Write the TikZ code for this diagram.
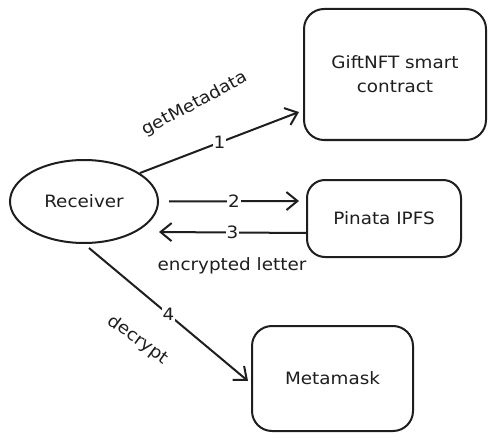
\documentclass[tikz,border=0pt]{standalone}
\usepackage{fontspec}
\setmainfont[FakeStretch=1.08]{DejaVu Sans}
\usetikzlibrary{arrows.meta,shapes.geometric}
\definecolor{ink}{HTML}{1E1E1E}
\tikzset{
  box/.style={draw=ink, line width=2pt, rounded corners=20pt, align=center, text=ink, font=\fontsize{17}{24}\selectfont},
  ell/.style={draw=ink, line width=2pt, ellipse, inner sep=0pt, text=ink, font=\fontsize{17}{24}\selectfont},
  conn/.style={draw=ink, line width=2pt, -{Straight Barb[length=11pt,width=18pt,line width=2pt]}},
  num/.style={fill=white, inner sep=1pt, text=ink, font=\fontsize{17}{20}\selectfont},
  lbl/.style={text=ink, inner sep=0pt, font=\fontsize{17}{20}\selectfont},
}
\begin{document}
\begin{tikzpicture}[x=1pt,y=-1pt]
\useasboundingbox[fill=white] (0,0) rectangle (495,441);
\node[box, minimum width=182pt, minimum height=131pt] (nft) at (395,74.5) {GiftNFT smart\\contract};
\node[box, minimum width=154pt, minimum height=77pt, rounded corners=18pt] (pin) at (384,218.5) {Pinata IPFS};
\node[box, minimum width=161pt, minimum height=105pt] (meta) at (332.5,378.5) {Metamask};
\node[ell, minimum width=148pt, minimum height=83pt] (rec) at (84,201.5) {Receiver};

\draw[conn] (rec.27) -- node[num, pos=0.5] {1} ([xshift=-4pt,yshift=-37.5pt]nft.west);
\draw[conn] ([xshift=10pt]rec.east) -- node[num, pos=0.5] {2} ([xshift=-7pt,yshift=17.5pt]pin.west);
\draw[conn] ([yshift=-14.5pt]pin.west) -- node[num, pos=0.5] {3} ([yshift=-30.5pt]rec.east);
\draw[conn] ([xshift=5pt,yshift=-4pt]rec.south) -- node[num, pos=0.5] {4} ([xshift=-3pt,yshift=-2.5pt]meta.west);

\node[lbl, rotate=28] (getm) at (195,104) {getMetadata};
\node[lbl] (enc) at (232,266) {encrypted letter};
\node[lbl, rotate=-36] (dec) at (138,340) {decrypt};
\end{tikzpicture}
\end{document}
